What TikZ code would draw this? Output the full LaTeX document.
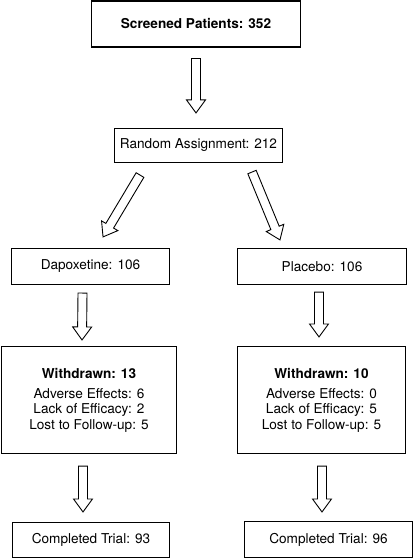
\documentclass[tikz,border=0pt]{standalone}
\usepackage{fontspec}
\setmainfont{TeX Gyre Heros}
\usetikzlibrary{calc}

% open block arrow from #1 (tail) to #2 (tip)
\newcommand{\blockarrow}[2]{%
	\draw[barr] let \p1=(#1), \p2=(#2),
	\n1={atan2(\y2-\y1,\x2-\x1)}, \n2={veclen(\x2-\x1,\y2-\y1)} in
	([shift={(\p1)},rotate=\n1]0,-4.5) -- ([shift={(\p1)},rotate=\n1]\n2-13,-4.5)
	-- ([shift={(\p1)},rotate=\n1]\n2-13,-9.5) -- ([shift={(\p1)},rotate=\n1]\n2,0)
	-- ([shift={(\p1)},rotate=\n1]\n2-13,9.5) -- ([shift={(\p1)},rotate=\n1]\n2-13,4.5)
	-- ([shift={(\p1)},rotate=\n1]0,4.5) -- cycle;}

\begin{document}
\begin{tikzpicture}[
		x=1pt,y=-1pt,
		txt/.style={font=\fontsize{13.6}{15.5}\selectfont},
		box/.style={txt,draw=black,line width=1.1pt,inner sep=0pt,align=center},
		barr/.style={draw=black,line width=0.9pt,line join=miter,fill=white}
		]
		\useasboundingbox (0,0) rectangle (414,559);
		
		% --- Top of the chart
		\node[box,minimum width=209,minimum height=46] (screen) at (196,24)
		{\textbf{Screened Patients: 352}};
		\node[box,minimum width=168,minimum height=34] (rand) at (198.5,145.5)
		{Random Assignment: 212};
		
		% --- Two arms
		\node[box,minimum width=158,minimum height=36] (dap) at (90.5,266.5) {Dapoxetine: 106};
		\node[box,minimum width=169,minimum height=36] (plac) at (322,266.5) {Placebo: 106};
		
		\node[box,minimum width=175,minimum height=107] (wleft) at (89,400)
		{\textbf{Withdrawn: 13}\\[4.5pt]Adverse Effects: 6\\Lack of Efficacy: 2\\Lost to Follow-up: 5};
		\node[box,minimum width=168,minimum height=107] (wright) at (321.5,400)
		{\textbf{Withdrawn: 10}\\[4.5pt]Adverse Effects: 0\\Lack of Efficacy: 5\\Lost to Follow-up: 5};
		
		\node[box,minimum width=157,minimum height=35] (cleft) at (91,540) {Completed Trial: 93};
		\node[box,minimum width=168,minimum height=36] (cright) at (328.5,539.5) {Completed Trial: 96};
		
		% --- Block arrows
		\blockarrow{$(screen.south)+(0,11)$}{$(screen.south |- rand.north)+(0,-15)$}
		\blockarrow{$(rand.south)+(-58.5,12)$}{$(dap.north)+(12.5,-11)$}
		\blockarrow{$(rand.south)+(53.5,9)$}{$(plac.north)+(-42,-8)$}
		\blockarrow{$(dap.south)+(-8,8)$}{$(wleft.north)+(-7,-6)$}
		\blockarrow{$(plac.south)+(-3,7)$}{$(wright.north)+(-2.5,-9)$}
		\blockarrow{$(wleft.south)+(-6,12)$}{$(cleft.north)+(-8,-10)$}
		\blockarrow{$(wright.south)+(0.5,12)$}{$(cright.north)+(-6.5,-9)$}
		
\end{tikzpicture}
\end{document}
